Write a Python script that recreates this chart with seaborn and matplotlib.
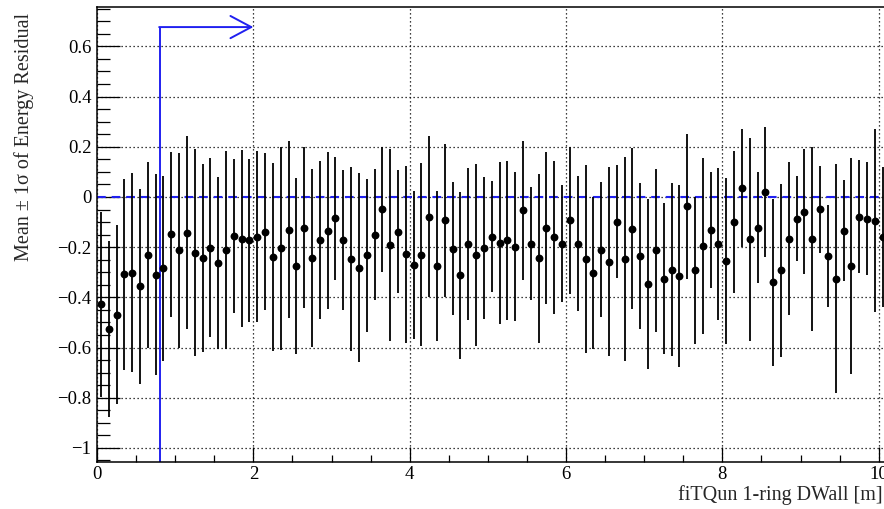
import numpy as np
import pandas as pd
import matplotlib
matplotlib.use("Agg")
import matplotlib.pyplot as plt
import seaborn as sns

# DWall bin centres [m]
dwall = [0.05, 0.15, 0.25, 0.35, 0.45, 0.55, 0.65, 0.75, 0.85, 0.95,
         1.05, 1.15, 1.25, 1.35, 1.45, 1.55, 1.65, 1.75, 1.85, 1.95,
         2.05, 2.15, 2.25, 2.35, 2.45, 2.55, 2.65, 2.75, 2.85, 2.95,
         3.05, 3.15, 3.25, 3.35, 3.45, 3.55, 3.65, 3.75, 3.85, 3.95,
         4.05, 4.15, 4.25, 4.35, 4.45, 4.55, 4.65, 4.75, 4.85, 4.95,
         5.05, 5.15, 5.25, 5.35, 5.45, 5.55, 5.65, 5.75, 5.85, 5.95,
         6.05, 6.15, 6.25, 6.35, 6.45, 6.55, 6.65, 6.75, 6.85, 6.95,
         7.05, 7.15, 7.25, 7.35, 7.45, 7.55, 7.65, 7.75, 7.85, 7.95,
         8.05, 8.15, 8.25, 8.35, 8.45, 8.55, 8.65, 8.75, 8.85, 8.95,
         9.05, 9.15, 9.25, 9.35, 9.45, 9.55, 9.65, 9.75, 9.85, 9.95,
         10.05]

# mean energy residual per bin
mean_res = [-0.428, -0.525, -0.469, -0.308, -0.301, -0.356, -0.232, -0.309, -0.284, -0.149,
            -0.212, -0.142, -0.222, -0.243, -0.202, -0.263, -0.211, -0.155, -0.166, -0.173,
            -0.158, -0.139, -0.240, -0.205, -0.130, -0.275, -0.122, -0.243, -0.171, -0.134,
            -0.085, -0.171, -0.246, -0.282, -0.232, -0.150, -0.049, -0.191, -0.138, -0.228,
            -0.271, -0.230, -0.078, -0.274, -0.093, -0.206, -0.312, -0.186, -0.231, -0.202,
            -0.158, -0.185, -0.173, -0.199, -0.053, -0.186, -0.244, -0.124, -0.161, -0.186,
            -0.093, -0.186, -0.247, -0.303, -0.211, -0.258, -0.098, -0.248, -0.126, -0.235,
            -0.348, -0.212, -0.325, -0.290, -0.315, -0.037, -0.292, -0.195, -0.133, -0.187,
            -0.255, -0.100, 0.037, -0.169, -0.122, 0.020, -0.340, -0.292, -0.167, -0.086,
            -0.058, -0.169, -0.049, -0.235, -0.325, -0.134, -0.275, -0.078, -0.086, -0.094,
            -0.158]

# 1 sigma of energy residual per bin
sigma_res = [0.370, 0.350, 0.356, 0.380, 0.398, 0.388, 0.370, 0.400, 0.368, 0.329,
             0.389, 0.385, 0.413, 0.374, 0.357, 0.344, 0.393, 0.308, 0.353, 0.326,
             0.342, 0.313, 0.374, 0.403, 0.353, 0.349, 0.322, 0.355, 0.314, 0.314,
             0.246, 0.279, 0.367, 0.376, 0.305, 0.260, 0.249, 0.381, 0.246, 0.352,
             0.295, 0.364, 0.321, 0.299, 0.304, 0.264, 0.333, 0.303, 0.362, 0.283,
             0.222, 0.323, 0.318, 0.297, 0.277, 0.225, 0.336, 0.304, 0.304, 0.234,
             0.293, 0.270, 0.374, 0.304, 0.269, 0.376, 0.225, 0.406, 0.322, 0.292,
             0.339, 0.325, 0.302, 0.344, 0.362, 0.288, 0.293, 0.352, 0.231, 0.304,
             0.329, 0.283, 0.235, 0.403, 0.220, 0.260, 0.333, 0.344, 0.305, 0.170,
             0.249, 0.367, 0.173, 0.203, 0.455, 0.202, 0.429, 0.224, 0.224, 0.366,
             0.279]

# fiducial cut marker
cut_dwall = 0.8
cut_arrow_y = 0.677
cut_arrow_end = 2.0

df = pd.DataFrame({"DWall": dwall, "Mean": mean_res, "Sigma": sigma_res})

sns.set_style("ticks")
plt.rcParams["font.family"] = ["Liberation Serif", "DejaVu Serif"]
plt.rcParams["mathtext.fontset"] = "stix"

fig = plt.figure(figsize=(8.84, 5.09), dpi=100)
# axes runs past the right edge of the canvas, like the cropped original
ax = fig.add_axes([97 / 884, 47 / 509, 820.8 / 884, 455 / 509])

ax.errorbar(df["DWall"], df["Mean"], yerr=df["Sigma"], fmt="none",
            ecolor="black", elinewidth=1.3, capsize=0, zorder=3)
sns.scatterplot(data=df, x="DWall", y="Mean", ax=ax, color="black",
                s=32, linewidth=0, zorder=4, legend=False)

blue = "#2020f0"
ax.axhline(0, color=blue, linestyle=(0, (4.2, 2.8)), linewidth=1.5, zorder=2)
ax.plot([cut_dwall, cut_dwall], [-1.2, cut_arrow_y], color=blue,
        linewidth=1.4, zorder=2, solid_capstyle="butt")
ax.annotate("", xy=(cut_arrow_end, cut_arrow_y), xytext=(cut_dwall - 0.005, cut_arrow_y),
            arrowprops=dict(arrowstyle="->,head_length=1.5,head_width=0.8",
                            color=blue, lw=1.4, shrinkA=0, shrinkB=0))

ax.set_xlim(0, 10.5)
ax.set_ylim(-1.056, 0.757)
ax.set_xticks([0, 2, 4, 6, 8, 10])
ax.set_xticks(np.arange(0, 10.6, 0.5), minor=True)
ax.set_yticks([-1, -0.8, -0.6, -0.4, -0.2, 0, 0.2, 0.4, 0.6])
ax.set_yticks(np.arange(-1.05, 0.76, 0.05), minor=True)
ax.set_yticklabels(["\u22121", "\u22120.8", "\u22120.6", "\u22120.4", "\u22120.2",
                    "0", "0.2", "0.4", "0.6"])
ax.set_xticklabels(["0", "2", "4", "6", "8", "10"])

ax.tick_params(axis="both", which="both", direction="in", width=0.9,
               labelsize=13.5, colors="black")
ax.tick_params(axis="y", which="major", length=16.5, pad=4)
ax.tick_params(axis="y", which="minor", length=9)
ax.tick_params(axis="x", which="major", length=10.5, pad=3)
ax.tick_params(axis="x", which="minor", length=5)
for sp in ax.spines.values():
    sp.set_linewidth(1.1)
    sp.set_color("black")

ax.grid(True, which="major", linestyle=(0, (1, 2.2)), color="black", linewidth=0.9)
ax.set_axisbelow(True)
ax.set_xlabel("")
ax.set_ylabel("")

fig.text(24 / 884, 1 - 13 / 509, "Mean \u00b1 1\u03c3 of Energy Residual", rotation=90,
         ha="center", va="top", fontsize=14.5)
fig.text(883 / 884, 4 / 509, "fiTQun 1-ring DWall [m]", ha="right", va="bottom",
         fontsize=14.5)

fig.savefig("out.png", dpi=100)
